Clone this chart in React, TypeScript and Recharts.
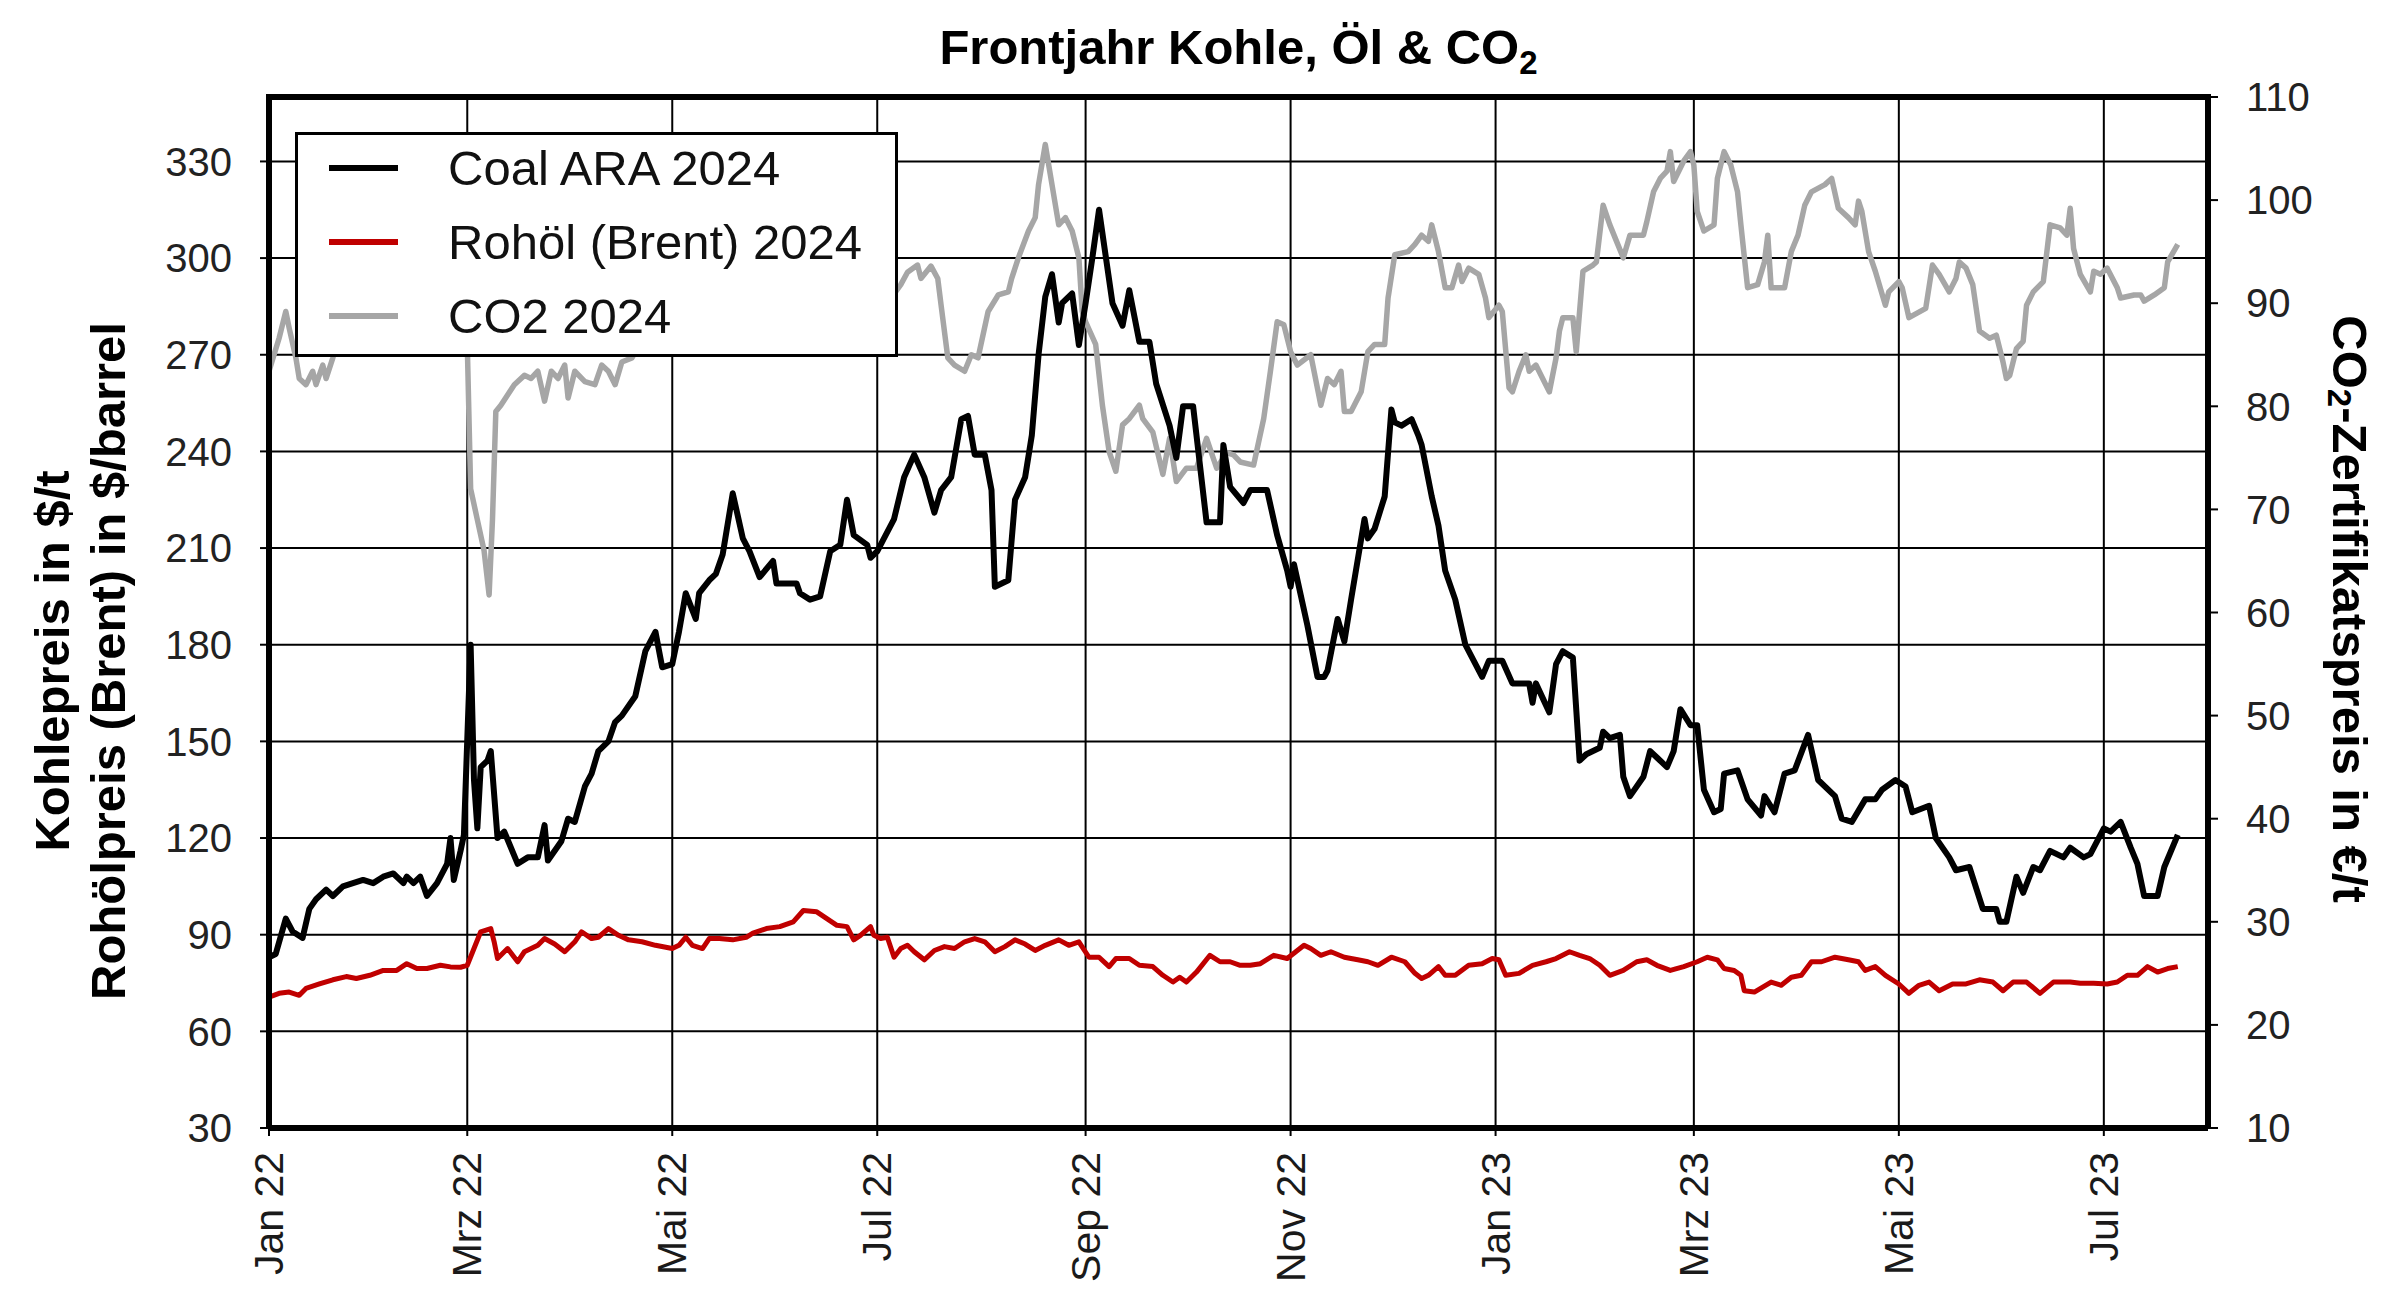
import React from 'react';
import { LineChart, Line, XAxis, YAxis, CartesianGrid, Legend } from 'recharts';

// days since 1 Jan 2022
const monthTicks = [0, 59, 120, 181, 243, 304, 365, 424, 485, 546];
const monthLabels = ['Jan 22', 'Mrz 22', 'Mai 22', 'Jul 22', 'Sep 22', 'Nov 22', 'Jan 23', 'Mrz 23', 'Mai 23', 'Jul 23'];
const leftTicks = [30, 60, 90, 120, 150, 180, 210, 240, 270, 300, 330];
const rightTicks = [10, 20, 30, 40, 50, 60, 70, 80, 90, 100, 110];

const coalDays = [
  0, 2, 5, 7, 10, 12, 14, 17, 19, 22, 25, 28, 31, 34, 37, 40, 41, 43, 45, 47,
  50, 53, 54, 55, 57, 58, 60, 61, 62, 63, 65, 66, 68, 70, 74, 77, 80, 82, 83, 87,
  89, 91, 94, 96, 98, 101, 103, 105, 109, 112, 115, 117, 120, 122, 124, 127, 128, 131, 133, 135,
  138, 141, 143, 146, 150, 151, 157, 158, 161, 164, 167, 170, 172, 174, 178, 179, 181, 183, 186, 189,
  192, 195, 198, 200, 203, 206, 208, 210, 213, 215, 216, 220, 222, 225, 227, 229, 231, 233, 235, 236,
  239, 241, 243, 245, 247, 251, 254, 256, 259, 262, 264, 268, 270, 272, 275, 279, 283, 284, 286, 290,
  292, 297, 300, 303, 304, 305, 309, 312, 314, 315, 318, 320, 322, 326, 327, 329, 332, 334, 335, 337,
  340, 342, 343, 346, 348, 350, 353, 356, 361, 363, 367, 370, 375, 376, 377, 381, 383, 385, 388, 390,
  392, 396, 397, 399, 402, 403, 405, 409, 411, 413, 416, 418, 420, 423, 425, 427, 430, 432, 433, 437,
  440, 444, 445, 448, 451, 454, 458, 461, 466, 468, 471, 475, 478, 480, 484, 487, 489, 494, 496, 500,
  502, 506, 510, 514, 515, 517, 520, 522, 525, 527, 530, 534, 536, 540, 542, 546, 548, 551, 554, 556,
  558, 562, 564, 568,
];
const coalPrices = [
  83, 84, 95, 91, 89, 98, 101, 104, 102, 105, 106, 107, 106, 108, 109, 106, 108, 106, 108, 102,
  106, 112, 120, 107, 116, 121, 180, 138, 123, 142, 144, 147, 120, 122, 112, 114, 114, 124, 113, 119,
  126, 125, 136, 140, 147, 150, 156, 158, 164, 178, 184, 173, 174, 184, 196, 188, 196, 200, 202, 208,
  227, 213, 209, 201, 206, 199, 199, 196, 194, 195, 209, 211, 225, 214, 211, 207, 209, 213, 219, 232,
  239, 232, 221, 228, 232, 250, 251, 239, 239, 228, 198, 200, 225, 232, 245, 270, 288, 295, 280, 286,
  289, 273, 286, 300, 315, 286, 279, 290, 274, 274, 261, 248, 238, 254, 254, 218, 218, 242, 229, 224,
  228, 228, 214, 203, 198, 205, 186, 170, 170, 172, 188, 181, 194, 219, 213, 216, 226, 253, 249, 248,
  250, 245, 242, 226, 217, 203, 194, 180, 170, 175, 175, 168, 168, 162, 168, 159, 174, 178, 176, 144,
  146, 148, 153, 151, 152, 139, 133, 139, 147, 145, 142, 147, 160, 155, 155, 135, 128, 129, 140, 141,
  132, 127, 133, 128, 140, 141, 152, 138, 133, 126, 125, 132, 132, 135, 138, 136, 128, 130, 120, 114,
  110, 111, 98, 98, 94, 94, 108, 103, 111, 110, 116, 114, 117, 114, 115, 123, 122, 125, 117, 112,
  102, 102, 111, 121,
];

const brentDays = [
  0, 3, 6, 9, 11, 15, 19, 23, 26, 30, 34, 38, 41, 44, 47, 51, 54, 57, 59, 61,
  63, 66, 67, 68, 71, 74, 76, 80, 82, 85, 88, 91, 93, 96, 98, 101, 104, 107, 111, 115,
  120, 122, 124, 126, 129, 131, 134, 138, 142, 144, 148, 152, 156, 159, 163, 166, 169, 172, 174, 176,
  179, 180, 182, 184, 186, 188, 190, 192, 195, 198, 201, 204, 207, 210, 213, 216, 219, 222, 225, 228,
  231, 235, 238, 241, 244, 247, 250, 252, 256, 259, 263, 266, 269, 271, 273, 276, 280, 283, 286, 289,
  292, 295, 299, 303, 308, 310, 313, 316, 320, 324, 327, 330, 334, 338, 341, 343, 345, 348, 350, 353,
  357, 361, 364, 366, 368, 372, 376, 380, 383, 387, 390, 393, 396, 399, 403, 407, 410, 413, 417, 421,
  425, 428, 431, 433, 436, 438, 439, 442, 447, 450, 453, 456, 459, 462, 466, 470, 473, 475, 478, 481,
  485, 488, 491, 494, 497, 501, 505, 509, 513, 516, 519, 523, 527, 531, 536, 539, 543, 547, 550, 553,
  556, 559, 562, 565, 568,
];
const brentPrices = [
  70.6, 71.8, 72.2, 71.2, 73.3, 74.7, 76, 77, 76.4, 77.4, 78.9, 78.9, 81, 79.5, 79.5, 80.5, 80, 79.9, 80.5, 85.7,
  90.9, 91.9, 87.8, 82.6, 85.7, 81.6, 84.7, 86.7, 88.8, 87.1, 84.7, 87.8, 90.9, 88.8, 89.2, 91.9, 89.8, 88.4, 87.8, 86.7,
  85.7, 86.7, 89.2, 86.7, 85.7, 88.8, 88.8, 88.4, 89.2, 90.5, 91.9, 92.5, 94, 97.5, 97.1, 95, 92.9, 92.5, 88.4, 89.8,
  92.5, 89.8, 88.8, 89.2, 83, 85.7, 86.7, 84.7, 82.2, 85.1, 86.3, 85.7, 87.8, 88.8, 87.8, 84.7, 86.3, 88.4, 87.1, 85.1,
  86.7, 88.4, 86.7, 87.8, 83, 83, 80.1, 82.6, 82.6, 80.5, 80.1, 77.4, 75.3, 76.8, 75.3, 78.4, 83.6, 81.6, 81.6, 80.5,
  80.5, 81, 83.6, 82.6, 86.7, 85.7, 83.6, 84.7, 83, 82.2, 81.6, 80.5, 83, 81.6, 78, 76.4, 77.4, 80.1, 77.4, 77.4,
  80.5, 81, 82.6, 82.2, 77.4, 78, 80.5, 81.6, 82.6, 84.7, 83.6, 82.6, 80.5, 77.4, 78.9, 81.6, 82.2, 80.5, 78.9, 80.1,
  81.6, 83, 82.2, 79.5, 78.9, 77.4, 72.6, 72.2, 75.3, 74.3, 76.8, 77.4, 81.6, 81.6, 83, 82.2, 81.6, 78.9, 80.1, 77.4,
  74.7, 71.8, 74.3, 75.3, 72.6, 74.7, 74.7, 76, 75.3, 72.6, 75.3, 75.3, 71.8, 75.3, 75.3, 74.9, 74.9, 74.7, 75.3, 77.4,
  77.4, 80.1, 78.4, 79.5, 80.1,
];

const co2Days = [
  0, 3, 5, 6, 8, 9, 11, 13, 14, 16, 17, 19, 22, 26, 30, 34, 38, 42, 46, 50,
  54, 57, 59, 60, 62, 64, 65.5, 66.5, 67.5, 69, 71, 73, 76, 78, 80, 82, 84, 86, 88, 89,
  91, 94, 97, 99, 101, 103, 105, 108, 112, 120, 128, 135, 142, 150, 158, 165, 172, 178, 184, 188,
  190, 193, 194, 197, 199, 200, 202, 204, 207, 209, 211, 214, 217, 220, 221, 223, 226, 228, 229, 231,
  233, 235, 237, 239, 241, 242, 243, 246, 248, 250, 252, 254, 256, 259, 260, 263, 266, 268, 270, 273,
  276, 279, 282, 285, 287, 289, 293, 296, 298, 300, 302, 304, 306, 310, 313, 315, 317, 319, 320, 322,
  325, 327, 329, 332, 333, 335, 339, 341, 343, 345, 346, 348, 350, 352, 354, 355, 357, 360, 362, 363,
  366, 367, 369, 370, 372, 374, 375, 377, 381, 383, 384, 385, 388, 389, 391, 394, 395, 397, 399, 401,
  403, 405, 409, 410, 412, 414, 416, 417, 418, 421, 423, 424, 425, 427, 430, 431, 433, 435, 437, 438,
  440, 443, 445, 446, 447, 451, 453, 455, 457, 459, 463, 465, 467, 470, 472, 473, 474, 476, 478, 481,
  482, 485, 486, 488, 493, 495, 497, 500, 502, 503, 505, 507, 509, 512, 514, 516, 517, 518, 520, 522,
  523, 525, 528, 530, 533, 535, 536, 537, 539, 542, 543, 545, 547, 550, 551, 555, 557, 558, 561, 564,
  565, 568,
];
const co2Prices = [
  83.4, 86.6, 89.2, 87.6, 84.7, 82.7, 82.1, 83.4, 82.1, 84, 82.7, 84.7, 88, 90, 92, 95, 96, 93, 95, 97,
  94, 90, 86, 72, 69, 66, 61.7, 69, 79.5, 80.1, 81.1, 82.1, 83, 82.7, 83.4, 80.5, 83.4, 82.7, 84, 80.8,
  83.4, 82.4, 82.1, 84, 83.4, 82.1, 84.3, 84.7, 87, 88, 90, 87, 88, 90, 92, 90, 88, 89, 90, 91.8,
  93, 93.7, 92.4, 93.6, 92.4, 89.8, 84.7, 84, 83.4, 85, 84.7, 89.2, 90.8, 91.1, 92.4, 94.4, 97, 98.3, 101.5, 105.4,
  101.5, 97.6, 98.3, 97, 94.4, 89.2, 88.2, 86, 80.1, 75.6, 73.7, 78.2, 78.8, 80.1, 78.8, 77.5, 73.4, 76.9, 72.7, 74,
  74, 76.9, 74, 75.5, 75.3, 74.6, 74.3, 78.8, 83.4, 88.2, 87.9, 85.3, 84, 85, 80.1, 82.7, 82.1, 83.4, 79.5, 79.5,
  81.4, 85.3, 86, 86, 90.5, 94.7, 95, 95.7, 96.6, 96, 97.6, 95, 91.5, 91.5, 93.7, 92.1, 93.4, 92.8, 90.5, 88.6,
  89.8, 89.2, 81.8, 81.4, 83.4, 85, 83.4, 84, 81.4, 84.7, 87.3, 88.6, 88.6, 85.3, 93.1, 93.7, 94, 99.5, 97.6, 96,
  94.4, 96.6, 96.6, 97.9, 100.8, 102.1, 102.8, 104.7, 101.8, 103.8, 104.7, 103.4, 98.9, 97, 97.6, 102.1, 104.7, 103.4, 100.8, 97.6,
  91.5, 91.8, 94, 96.6, 91.5, 91.5, 95, 96.6, 99.5, 100.8, 101.5, 102.1, 99.2, 98.3, 97.6, 99.9, 98.9, 95, 93.1, 89.8,
  91.1, 92.1, 91.5, 88.6, 89.5, 93.7, 92.8, 91.1, 92.4, 94, 93.4, 91.8, 87.3, 86.6, 86.9, 84.3, 82.7, 83, 85.6, 86.3,
  89.8, 91.1, 92.1, 97.6, 97.3, 96.6, 99.2, 95.3, 92.8, 91.1, 93.1, 92.8, 93.4, 91.5, 90.5, 90.8, 90.8, 90.2, 90.8, 91.5,
  94, 95.7,
];

const FONT = '"Liberation Sans", Arial, Helvetica, sans-serif';
const WIDTH = 2400;
const HEIGHT = 1311;
const PLOT_LEFT = 269;
const PLOT_RIGHT = 2208;
const PLOT_TOP = 97;
const PLOT_BOTTOM = 1128;
const Y_AXIS_W = 130;
const X_AXIS_H = 180;

const toPoints = (days: number[], values: number[]) =>
  days.map((day, i) => ({ day, value: values[i] }));

const coalData = toPoints(coalDays, coalPrices);
const brentData = toPoints(brentDays, brentPrices);
const co2Data = toPoints(co2Days, co2Prices);

const legendItems = [
  { name: 'Coal ARA 2024', color: '#000000', width: 6 },
  { name: 'Rohöl (Brent) 2024', color: '#c00000', width: 6 },
  { name: 'CO2 2024', color: '#a6a6a6', width: 6 },
];

const MonthTick = (props: any) => {
  const { x, y, payload } = props;
  const label = monthLabels[monthTicks.indexOf(payload.value)];
  return (
    <text
      transform={`translate(${x},${y}) rotate(-90)`}
      textAnchor="end"
      dominantBaseline="central"
      fontSize={41}
      fontFamily={FONT}
      fill="#1a1a1a"
    >
      {label}
    </text>
  );
};

// chart title, top frame edge and left axis title share the left axis label slot
const LeftTitle = () => (
  <g fontWeight="bold" fontFamily={FONT} fill="#000">
    <line x1={PLOT_LEFT - 3} y1={PLOT_TOP} x2={PLOT_RIGHT + 3} y2={PLOT_TOP} stroke="#000" strokeWidth={6} />
    <text x={(PLOT_LEFT + PLOT_RIGHT) / 2} y={64} textAnchor="middle" fontSize={49}>
      Frontjahr Kohle, Öl &amp; CO
      <tspan dy={10} fontSize={33}>2</tspan>
    </text>
    <text transform="translate(52,661) rotate(-90)" textAnchor="middle" dominantBaseline="central" fontSize={49}>
      Kohlepreis in $/t
    </text>
    <text transform="translate(108,661) rotate(-90)" textAnchor="middle" dominantBaseline="central" fontSize={49}>
      Rohölpreis (Brent) in $/barrel
    </text>
  </g>
);

const RightTitle = () => (
  <text
    transform="translate(2350,609) rotate(90)"
    textAnchor="middle"
    dominantBaseline="central"
    fontSize={49}
    fontWeight="bold"
    fontFamily={FONT}
    fill="#000"
  >
    CO
    <tspan dy={10} fontSize={33}>2</tspan>
    <tspan dy={-10}>-Zertifikatspreis in €/t</tspan>
  </text>
);

const LegendBox = () => (
  <div
    style={{
      width: 603,
      height: 225,
      boxSizing: 'border-box',
      border: '3px solid #000',
      background: '#fff',
      fontFamily: FONT,
    }}
  >
    <div style={{ marginTop: -4 }}>
      {legendItems.map((item) => (
        <div key={item.name} style={{ display: 'flex', alignItems: 'center', height: 74 }}>
          <svg width={69} height={10} style={{ marginLeft: 31, marginRight: 50 }}>
            <line x1={0} y1={5} x2={69} y2={5} stroke={item.color} strokeWidth={item.width} />
          </svg>
          <span style={{ fontSize: 49, color: '#111', lineHeight: 1 }}>{item.name}</span>
        </div>
      ))}
    </div>
  </div>
);

export default function App() {
  return (
    <div style={{ position: 'absolute', left: 0, top: 0, background: '#fff' }}>
      <LineChart
        width={WIDTH}
        height={HEIGHT}
        margin={{
          top: PLOT_TOP,
          right: WIDTH - PLOT_RIGHT - Y_AXIS_W,
          bottom: HEIGHT - PLOT_BOTTOM - X_AXIS_H,
          left: PLOT_LEFT - Y_AXIS_W,
        }}
      >
        <CartesianGrid yAxisId="left" stroke="#000" strokeWidth={2} />
        <XAxis
          dataKey="day"
          type="number"
          domain={[0, 577]}
          ticks={monthTicks}
          interval={0}
          allowDataOverflow
          height={X_AXIS_H}
          tickSize={8}
          tickMargin={16}
          tick={<MonthTick />}
          axisLine={{ stroke: '#000', strokeWidth: 6 }}
          tickLine={{ stroke: '#000', strokeWidth: 2 }}
        />
        <YAxis
          yAxisId="left"
          orientation="left"
          width={Y_AXIS_W}
          domain={[30, 350]}
          ticks={leftTicks}
          interval={0}
          allowDataOverflow
          tickSize={9}
          tickMargin={28}
          tick={{ fill: '#222', fontSize: 40, fontFamily: FONT }}
          axisLine={{ stroke: '#000', strokeWidth: 6 }}
          tickLine={{ stroke: '#000', strokeWidth: 2 }}
          label={LeftTitle}
        />
        <YAxis
          yAxisId="right"
          orientation="right"
          width={Y_AXIS_W}
          domain={[10, 110]}
          ticks={rightTicks}
          interval={0}
          allowDataOverflow
          tickSize={10}
          tickMargin={28}
          tick={{ fill: '#222', fontSize: 40, fontFamily: FONT }}
          axisLine={{ stroke: '#000', strokeWidth: 6 }}
          tickLine={{ stroke: '#000', strokeWidth: 2 }}
          label={RightTitle}
        />
        <Line
          yAxisId="right"
          data={co2Data}
          dataKey="value"
          name="CO2 2024"
          type="linear"
          stroke="#a6a6a6"
          strokeWidth={5.5}
          strokeLinejoin="round"
          dot={false}
          activeDot={false}
          isAnimationActive={false}
        />
        <Line
          yAxisId="left"
          data={brentData}
          dataKey="value"
          name="Rohöl (Brent) 2024"
          type="linear"
          stroke="#c00000"
          strokeWidth={5}
          strokeLinejoin="round"
          dot={false}
          activeDot={false}
          isAnimationActive={false}
        />
        <Line
          yAxisId="left"
          data={coalData}
          dataKey="value"
          name="Coal ARA 2024"
          type="linear"
          stroke="#000000"
          strokeWidth={6}
          strokeLinejoin="round"
          dot={false}
          activeDot={false}
          isAnimationActive={false}
        />
        <Legend
          layout="vertical"
          align="center"
          verticalAlign="middle"
          wrapperStyle={{ left: 295, top: 132, width: 603 }}
          content={<LegendBox />}
        />
      </LineChart>
    </div>
  );
}
